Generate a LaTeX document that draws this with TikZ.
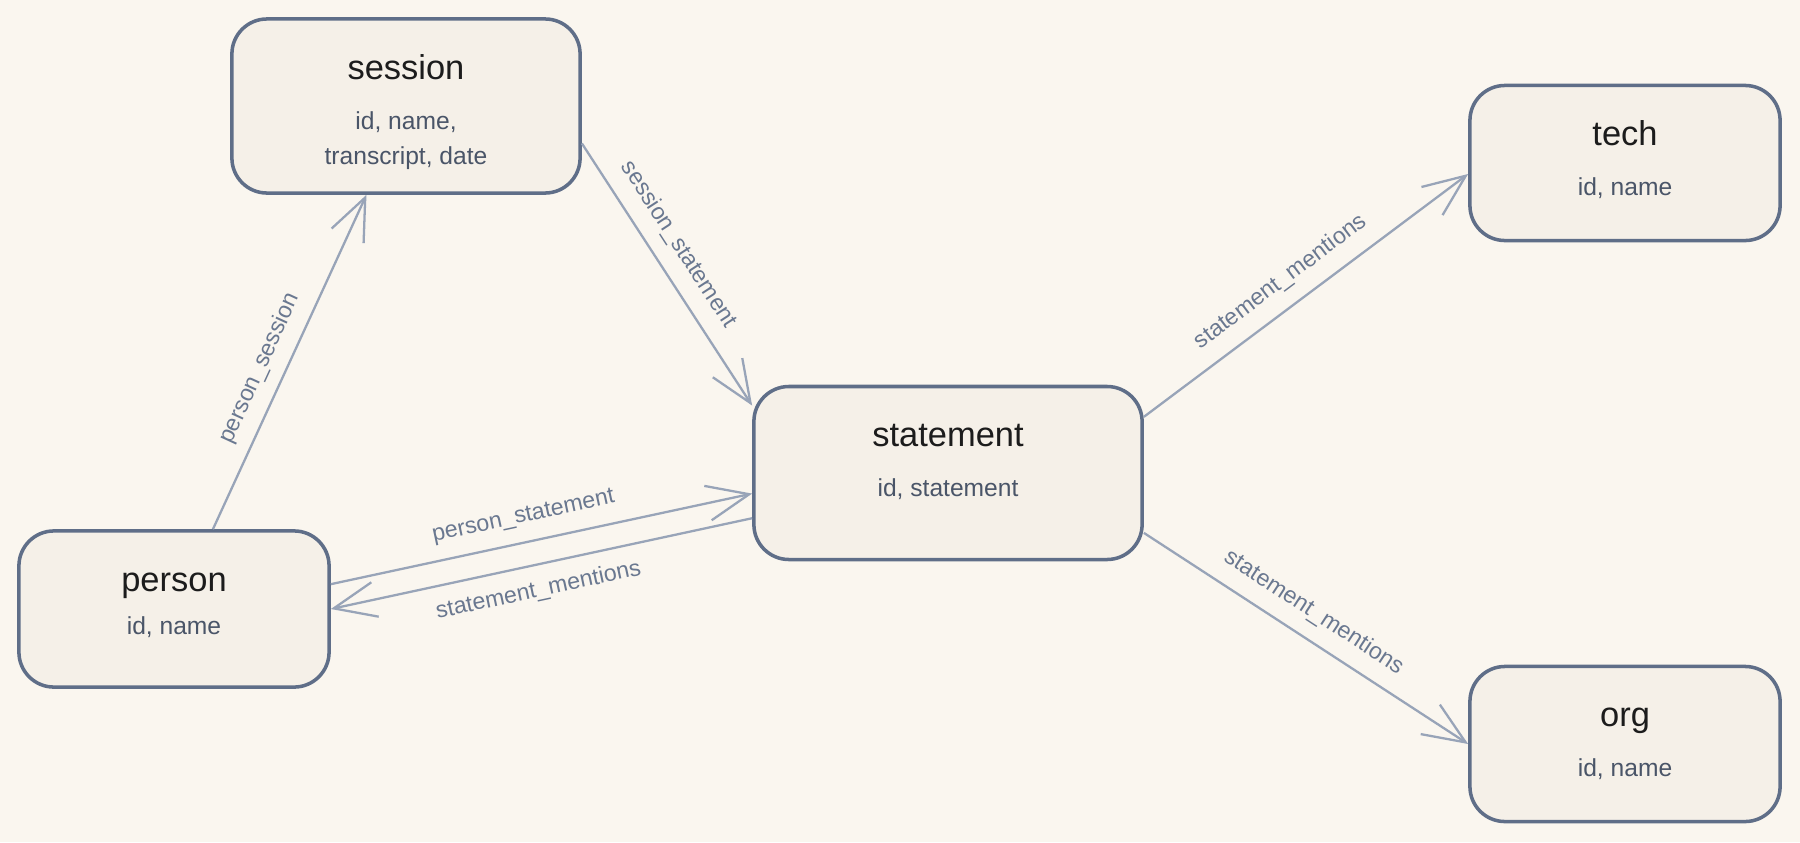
\documentclass[tikz,border=0pt]{standalone}
\usepackage{fontspec}
\setmainfont{Liberation Sans}
\usetikzlibrary{arrows.meta, positioning}

\definecolor{bgcream}{HTML}{FAF6EF}
\definecolor{boxfill}{HTML}{F5F0E8}
\definecolor{boxline}{HTML}{5F6E88}
\definecolor{edgeline}{HTML}{98A4B8}
\definecolor{titletext}{HTML}{1C1C1C}
\definecolor{subtext}{HTML}{4A5568}
\definecolor{lbltext}{HTML}{6A7890}

\newcommand{\enttitle}[1]{{\color{titletext}\fontsize{9.8}{12}\selectfont #1}}
\newcommand{\enttab}[1]{\begin{tabular}[t]{@{}c@{}}#1\end{tabular}}

\begin{document}
\begin{tikzpicture}[x=0.01cm, y=-0.01cm,
  entity/.style={draw=boxline, line width=1pt, fill=boxfill, rounded corners=0.35cm,
    text=subtext, font=\fontsize{7}{10}\selectfont, inner sep=0pt, text height=17.2pt},
  rel/.style={draw=edgeline, line width=0.65pt, -{Straight Barb[length=12pt,width=10pt]}},
  lbl/.style={text=lbltext, font=\fontsize{6.6}{8}\selectfont, sloped, inner sep=1.5pt}]

  % Hintergrund
  \fill[bgcream] (0,0) rectangle (1800,842);

  % Tabellen
  \node[entity, minimum width=3.48cm, text depth=32.3pt] (session) at (406,106)
    {\enttab{\enttitle{session}\\[4.3pt] id, name,\\ transcript, date}};
  \node[entity, minimum width=3.10cm, text depth=27.2pt] (person) at (174,609)
    {\enttab{\enttitle{person}\\[2.3pt] id, name}};
  \node[entity, minimum width=3.88cm, text depth=32.0pt] (statement) at (948,473)
    {\enttab{\enttitle{statement}\\[4pt] id, statement}};
  \node[entity, minimum width=3.10cm, text depth=26.9pt] (tech) at (1625,163)
    {\enttab{\enttitle{tech}\\[4pt] id, name}};
  \node[entity, minimum width=3.10cm, text depth=26.9pt] (org) at (1625,744)
    {\enttab{\enttitle{org}\\[4pt] id, name}};

  % Beziehungen
  \draw[rel] (person.64) -- node[lbl, above=2pt, pos=0.45] {person\_session} (session.246);
  \draw[rel] (session.-12.6) -- node[lbl, above=2.5pt, pos=0.44] {session\_statement} (statement.161);
  \draw[rel] (person.9) -- node[lbl, above=2.5pt, pos=0.47] {person\_statement} (statement.186);
  \draw[rel] (statement.193) -- node[lbl, below=2.5pt, pos=0.52] {statement\_mentions} (person.0);
  \draw[rel] (statement.16.5) -- node[lbl, above=2.5pt, pos=0.47] {statement\_mentions} (tech.184);
  \draw[rel] (statement.-17.3) -- node[lbl, above=2.5pt, pos=0.48] {statement\_mentions} (org.180);
\end{tikzpicture}
\end{document}
